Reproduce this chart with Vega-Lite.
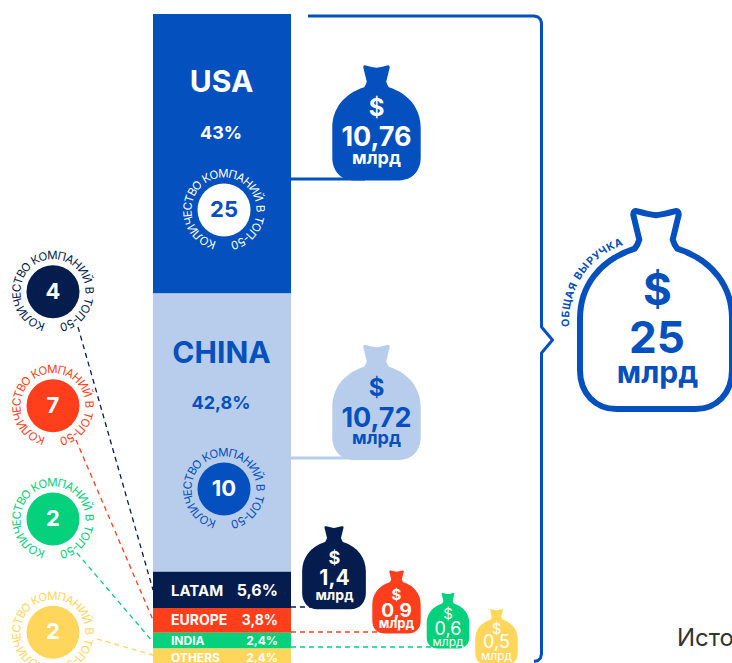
{
"$schema":"https://vega.github.io/schema/vega-lite/v6.json",
"width":732,"height":663,"padding":0,"autosize":{"type":"none"},
"background":"white",
"config":{"view":{"stroke":null},"font":"Inter","text":{"font":"Inter"}},
"datasets":{
"shares":[
{"region":"USA","share":43,"rank":1},
{"region":"China","share":42.8,"rank":2},
{"region":"LATAM","share":5.6,"rank":3},
{"region":"Europe","share":3.8,"rank":4},
{"region":"India","share":2.4,"rank":5},
{"region":"Others","share":2.4,"rank":6}],
"solid":[
{"id":"bracket","region":"Total","n":1,"x":308,"y":16},
{"id":"bracket","region":"Total","n":2,"x":534,"y":16},
{"id":"bracket","region":"Total","n":3,"x":538,"y":17},
{"id":"bracket","region":"Total","n":4,"x":540.5,"y":19.5},
{"id":"bracket","region":"Total","n":5,"x":541.5,"y":23},
{"id":"bracket","region":"Total","n":6,"x":541.5,"y":327},
{"id":"bracket","region":"Total","n":7,"x":552.5,"y":340},
{"id":"bracket","region":"Total","n":8,"x":541.5,"y":353},
{"id":"bracket","region":"Total","n":9,"x":541.5,"y":654},
{"id":"bracket","region":"Total","n":10,"x":540.5,"y":658},
{"id":"bracket","region":"Total","n":11,"x":538,"y":660.5},
{"id":"bracket","region":"Total","n":12,"x":534,"y":661.5},
{"id":"usa","region":"USA","n":1,"x":291,"y":179},
{"id":"usa","region":"USA","n":2,"x":365,"y":179},
{"id":"china","region":"China","n":1,"x":291,"y":458},
{"id":"china","region":"China","n":2,"x":365,"y":458}],
"dashed":[
{"id":"latam-l","region":"LATAM","n":1,"x":78,"y":327},
{"id":"latam-l","region":"LATAM","n":2,"x":153,"y":590},
{"id":"europe-l","region":"Europe","n":1,"x":76,"y":440},
{"id":"europe-l","region":"Europe","n":2,"x":153,"y":620},
{"id":"india-l","region":"India","n":1,"x":77,"y":553},
{"id":"india-l","region":"India","n":2,"x":153,"y":642},
{"id":"others-l","region":"Others","n":1,"x":97,"y":639},
{"id":"others-l","region":"Others","n":2,"x":153,"y":655},
{"id":"latam-r","region":"LATAM","n":1,"x":291,"y":607},
{"id":"latam-r","region":"LATAM","n":2,"x":312,"y":607},
{"id":"europe-r","region":"Europe","n":1,"x":291,"y":632},
{"id":"europe-r","region":"Europe","n":2,"x":382,"y":632},
{"id":"india-r","region":"India","n":1,"x":291,"y":647},
{"id":"india-r","region":"India","n":2,"x":435,"y":647}],
"bags":[
{"region":"USA","revenue":10.76,"x":376.5,"y":122.5},
{"region":"China","revenue":10.72,"x":376.5,"y":402},
{"region":"LATAM","revenue":1.4,"x":334,"y":567.4},
{"region":"Europe","revenue":0.9,"x":396.5,"y":601.7},
{"region":"India","revenue":0.6,"x":448,"y":620.5},
{"region":"Others","revenue":0.5,"x":496.5,"y":636.5}],
"total":[{"region":"Total","revenue":25,"x":656,"y":309.5}],
"labels":[
{"region":"USA","t":"USA","role":"name","x":221.5,"y":92,"a":"center"},
{"region":"USA","t":"43%","role":"pct","x":221,"y":138.5,"a":"center"},
{"region":"China","t":"CHINA","role":"name","x":221.5,"y":363,"a":"center"},
{"region":"China","t":"42,8%","role":"pct","x":221,"y":409,"a":"center"},
{"region":"LATAM","t":"LATAM","role":"latam row","x":171,"y":596,"a":"left"},
{"region":"LATAM","t":"5,6%","role":"latam pct","x":278,"y":596,"a":"right"},
{"region":"Europe","t":"EUROPE","role":"europe row","x":171,"y":625,"a":"left"},
{"region":"Europe","t":"3,8%","role":"europe row","x":278,"y":625,"a":"right"},
{"region":"India","t":"INDIA","role":"small row","x":171,"y":645,"a":"left"},
{"region":"India","t":"2,4%","role":"small row","x":278,"y":645,"a":"right"},
{"region":"Others","t":"OTHERS","role":"small row","x":171,"y":661.5,"a":"left"},
{"region":"Others","t":"2,4%","role":"small row","x":278,"y":661.5,"a":"right"},
{"region":"USA","t":"$","role":"big sign","x":376.5,"y":116,"a":"center"},
{"region":"USA","t":"10,76","role":"big value","x":376.5,"y":146,"a":"center"},
{"region":"USA","t":"млрд","role":"big unit","x":376.5,"y":164,"a":"center"},
{"region":"China","t":"$","role":"big sign","x":376.5,"y":395.5,"a":"center"},
{"region":"China","t":"10,72","role":"big value","x":376.5,"y":427,"a":"center"},
{"region":"China","t":"млрд","role":"big unit","x":376.5,"y":444,"a":"center"},
{"region":"LATAM","t":"$","role":"latam sign","x":334.5,"y":564,"a":"center"},
{"region":"LATAM","t":"1,4","role":"latam value","x":334.5,"y":585,"a":"center"},
{"region":"LATAM","t":"млрд","role":"latam unit","x":334.5,"y":600,"a":"center"},
{"region":"Europe","t":"$","role":"europe sign","x":396.5,"y":600,"a":"center"},
{"region":"Europe","t":"0,9","role":"europe value","x":396.5,"y":616.7,"a":"center"},
{"region":"Europe","t":"млрд","role":"europe unit","x":396.5,"y":628,"a":"center"},
{"region":"Total","t":"$","role":"total sign","x":657.5,"y":305,"a":"center"},
{"region":"Total","t":"25","role":"total sign","x":657,"y":353,"a":"center"},
{"region":"Total","t":"млрд","role":"total unit","x":657.5,"y":383,"a":"center"}],
"labelsLight":[
{"region":"India","t":"$","role":"europe sign","x":448,"y":619,"a":"center"},
{"region":"India","t":"0,6","role":"small value","x":448,"y":635,"a":"center"},
{"region":"India","t":"млрд","role":"small unit","x":448,"y":646,"a":"center"},
{"region":"Others","t":"$","role":"europe sign","x":496.5,"y":634,"a":"center"},
{"region":"Others","t":"0,5","role":"small value","x":496.5,"y":648,"a":"center"},
{"region":"Others","t":"млрд","role":"small unit","x":496.5,"y":660,"a":"center"},
{"region":"Source","t":"Исто","role":"source","x":677,"y":646,"a":"left"}],
"rings":[
{"region":"USA","count":25,"cx":224,"cy":210,"ch":["К","О","Л","И","Ч","Е","С","Т","В","О","К","О","М","П","А","Н","И","Й","В","Т","О","П","-","5","0"],"deg":[200,213,226,239,253,264,276,288,300,312,331,344,359,374,387.5,401,415,429,448,466,478,492,502,511,523]},
{"region":"China","count":10,"cx":224,"cy":489,"ch":["К","О","Л","И","Ч","Е","С","Т","В","О","К","О","М","П","А","Н","И","Й","В","Т","О","П","-","5","0"],"deg":[200,213,226,239,253,264,276,288,300,312,331,344,359,374,387.5,401,415,429,448,466,478,492,502,511,523]},
{"region":"LATAM","count":4,"cx":53,"cy":291.7,"ch":["К","О","Л","И","Ч","Е","С","Т","В","О","К","О","М","П","А","Н","И","Й","В","Т","О","П","-","5","0"],"deg":[200,213,226,239,253,264,276,288,300,312,331,344,359,374,387.5,401,415,429,448,466,478,492,502,511,523]},
{"region":"Europe","count":7,"cx":53,"cy":405.7,"ch":["К","О","Л","И","Ч","Е","С","Т","В","О","К","О","М","П","А","Н","И","Й","В","Т","О","П","-","5","0"],"deg":[200,213,226,239,253,264,276,288,300,312,331,344,359,374,387.5,401,415,429,448,466,478,492,502,511,523]},
{"region":"India","count":2,"cx":53,"cy":519,"ch":["К","О","Л","И","Ч","Е","С","Т","В","О","К","О","М","П","А","Н","И","Й","В","Т","О","П","-","5","0"],"deg":[200,213,226,239,253,264,276,288,300,312,331,344,359,374,387.5,401,415,429,448,466,478,492,502,511,523]},
{"region":"Others","count":2,"cx":53,"cy":632.3,"ch":["К","О","Л","И","Ч","Е","С","Т","В","О","К","О","М","П","А","Н","И","Й","В","Т","О","П","-","5","0"],"deg":[200,213,226,239,253,264,276,288,300,312,331,344,359,374,387.5,401,415,429,448,466,478,492,502,511,523]}],
"arc":[
{"region":"Total","cx":648,"cy":320,"ch":"О","deg":268},
{"region":"Total","cx":648,"cy":320,"ch":"Б","deg":274},
{"region":"Total","cx":648,"cy":320,"ch":"Щ","deg":281},
{"region":"Total","cx":648,"cy":320,"ch":"А","deg":288},
{"region":"Total","cx":648,"cy":320,"ch":"Я","deg":294},
{"region":"Total","cx":648,"cy":320,"ch":"В","deg":302.5},
{"region":"Total","cx":648,"cy":320,"ch":"Ы","deg":309},
{"region":"Total","cx":648,"cy":320,"ch":"Р","deg":316},
{"region":"Total","cx":648,"cy":320,"ch":"У","deg":321.5},
{"region":"Total","cx":648,"cy":320,"ch":"Ч","deg":327},
{"region":"Total","cx":648,"cy":320,"ch":"К","deg":333},
{"region":"Total","cx":648,"cy":320,"ch":"А","deg":339}]
},
"resolve":{"scale":{"y":"independent","size":"independent"}},
"layer":[
{"data":{"name":"shares"},
 "transform":[{"stack":"share","groupby":[],"sort":[{"field":"rank","order":"ascending"}],"as":["s0","s1"]}],
 "mark":{"type":"rect"},
 "encoding":{
  "x":{"datum":153,"type":"quantitative","scale":{"domain":[0,732],"nice":false,"zero":false},"axis":null},
  "x2":{"datum":291},
  "y":{"field":"s0","type":"quantitative","scale":{"domain":[99.846,-2.154],"nice":false,"zero":false},"axis":null},
  "y2":{"field":"s1"},
  "color":{"field":"region","type":"nominal","legend":null,"scale":{"domain":["USA","China","LATAM","Europe","India","Others","Total"],"range":["#0450BF","#B7CDEB","#051C4E","#FF3F1C","#05D07B","#FFD65C","#0450BF"]}}}},
{"data":{"name":"solid"},
 "mark":{"type":"line","strokeWidth":3,"strokeCap":"butt","strokeJoin":"round"},
 "encoding":{
  "x":{"field":"x","type":"quantitative","axis":null},
  "y":{"field":"y","type":"quantitative","scale":{"domain":[663,0],"nice":false,"zero":false},"axis":null},
  "color":{"field":"region","type":"nominal","legend":null},
  "detail":{"field":"id"},
  "order":{"field":"n","type":"quantitative"}}},
{"data":{"name":"dashed"},
 "mark":{"type":"line","strokeWidth":1.3,"strokeDash":[5,4]},
 "encoding":{
  "x":{"field":"x","type":"quantitative","axis":null},
  "y":{"field":"y","type":"quantitative","scale":{"domain":[663,0],"nice":false,"zero":false},"axis":null},
  "color":{"field":"region","type":"nominal","legend":null},
  "detail":{"field":"id"},
  "order":{"field":"n","type":"quantitative"}}},
{"data":{"name":"bags"},
 "mark":{"type":"point","filled":true,"opacity":1,"shape":"M-0.3,-1.25 Q-0.3,-1.31 -0.24,-1.29 Q-0.1,-1.25 0,-1.24 Q0.1,-1.25 0.24,-1.29 Q0.3,-1.31 0.3,-1.25 L0.22,-0.92 Q0.24,-0.85 0.28,-0.8 C0.75,-0.65 1,-0.3 1,0.12 L1,0.8 C1,1.1 0.8,1.31 0.52,1.31 L-0.52,1.31 C-0.8,1.31 -1,1.1 -1,0.8 L-1,0.12 C-1,-0.3 -0.75,-0.65 -0.28,-0.8 Q-0.24,-0.85 -0.22,-0.92 Z"},
 "encoding":{
  "x":{"field":"x","type":"quantitative","axis":null},
  "y":{"field":"y","type":"quantitative","scale":{"domain":[663,0],"nice":false,"zero":false},"axis":null},
  "size":{"field":"revenue","type":"quantitative","legend":null,"scale":{"domain":[0.5,0.6,0.9,1.4,10.72,10.76],"range":[1800,1815,2340,4060,7815,7815]}},
  "color":{"field":"region","type":"nominal","legend":null}}},
{"data":{"name":"total"},
 "mark":{"type":"point","filled":true,"opacity":1,"fill":"#ffffff","stroke":"#0450BF","strokeWidth":6,"shape":"M-0.3,-1.25 Q-0.3,-1.31 -0.24,-1.29 Q-0.1,-1.25 0,-1.24 Q0.1,-1.25 0.24,-1.29 Q0.3,-1.31 0.3,-1.25 L0.22,-0.92 Q0.24,-0.85 0.28,-0.8 C0.75,-0.65 1,-0.3 1,0.12 L1,0.8 C1,1.1 0.8,1.31 0.52,1.31 L-0.52,1.31 C-0.8,1.31 -1,1.1 -1,0.8 L-1,0.12 C-1,-0.3 -0.75,-0.65 -0.28,-0.8 Q-0.24,-0.85 -0.22,-0.92 Z"},
 "encoding":{
  "x":{"field":"x","type":"quantitative","axis":null},
  "y":{"field":"y","type":"quantitative","scale":{"domain":[663,0],"nice":false,"zero":false},"axis":null},
  "size":{"field":"revenue","type":"quantitative","legend":null,"scale":{"domain":[0,25],"range":[0,23100]}}}},
{"data":{"name":"rings"},
 "mark":{"type":"point","shape":"circle","filled":true,"opacity":1,"size":2809},
 "encoding":{
  "x":{"field":"cx","type":"quantitative","axis":null},
  "y":{"field":"cy","type":"quantitative","scale":{"domain":[663,0],"nice":false,"zero":false},"axis":null},
  "color":{"condition":[{"test":"datum.region==='USA'","value":"#ffffff"},{"test":"datum.region==='China'","value":"#0450BF"}],"field":"region","type":"nominal","legend":null}}},
{"data":{"name":"rings"},
 "mark":{"type":"text","fontWeight":700,"fontSize":22,"align":"center","baseline":"middle"},
 "encoding":{
  "x":{"field":"cx","type":"quantitative","axis":null},
  "y":{"field":"cy","type":"quantitative","scale":{"domain":[663,0],"nice":false,"zero":false},"axis":null},
  "text":{"field":"count","type":"nominal"},
  "color":{"condition":{"test":"datum.region==='USA'","value":"#0450BF"},"value":"#ffffff"}}},
{"data":{"name":"rings"},
 "transform":[{"flatten":["ch","deg"]}],
 "mark":{"type":"text","fontSize":11.5,"fontWeight":400,"align":"center","baseline":"alphabetic","radius":32.5},
 "encoding":{
  "x":{"field":"cx","type":"quantitative","axis":null},
  "y":{"field":"cy","type":"quantitative","scale":{"domain":[663,0],"nice":false,"zero":false},"axis":null},
  "theta":{"field":"deg","type":"quantitative","scale":{"domain":[0,720],"range":[0,12.56637]}},
  "angle":{"field":"deg","type":"quantitative","scale":null},
  "text":{"field":"ch"},
  "color":{"condition":[{"test":"datum.region==='USA'","value":"#ffffff"},{"test":"datum.region==='China'","value":"#0450BF"}],"field":"region","type":"nominal","legend":null}}},
{"data":{"name":"arc"},
 "mark":{"type":"text","fontSize":10.5,"fontWeight":700,"align":"center","baseline":"alphabetic","radius":79},
 "encoding":{
  "x":{"field":"cx","type":"quantitative","axis":null},
  "y":{"field":"cy","type":"quantitative","scale":{"domain":[663,0],"nice":false,"zero":false},"axis":null},
  "theta":{"field":"deg","type":"quantitative","scale":{"domain":[0,720],"range":[0,12.56637]}},
  "angle":{"field":"deg","type":"quantitative","scale":null},
  "text":{"field":"ch"},
  "color":{"value":"#0450BF"}}},
{"data":{"name":"labels"},
 "mark":{"type":"text","fontWeight":700,"baseline":"alphabetic","align":{"expr":"datum.a"}},
 "encoding":{
  "x":{"field":"x","type":"quantitative","axis":null},
  "y":{"field":"y","type":"quantitative","scale":{"domain":[663,0],"nice":false,"zero":false},"axis":null},
  "text":{"field":"t"},
  "size":{"field":"role","type":"nominal","legend":null,"scale":{"type":"ordinal","domain":["name","pct","latam row","latam pct","europe row","small row","big sign","big value","big unit","latam sign","latam value","latam unit","europe sign","europe value","europe unit","total sign","total unit"],"range":[30,18,15,16,14,12,24,27,18,18,21,14,15,19,13,44,30]}},
  "color":{"condition":{"test":"datum.region==='China'||datum.region==='Total'","value":"#0450BF"},"value":"#ffffff"}}},
{"data":{"name":"labelsLight"},
 "mark":{"type":"text","fontWeight":400,"baseline":"alphabetic","align":{"expr":"datum.a"}},
 "encoding":{
  "x":{"field":"x","type":"quantitative","axis":null},
  "y":{"field":"y","type":"quantitative","scale":{"domain":[663,0],"nice":false,"zero":false},"axis":null},
  "text":{"field":"t"},
  "size":{"field":"role","type":"nominal","legend":null,"scale":{"type":"ordinal","domain":["europe sign","small value","small unit","source"],"range":[15,18,12,24]}},
  "color":{"condition":{"test":"datum.region==='Source'","value":"#333333"},"value":"#ffffff"}}}
]}
